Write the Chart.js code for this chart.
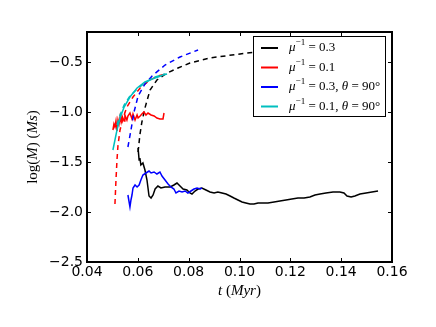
<!DOCTYPE html>
<html>
<head>
<meta charset="utf-8">
<script src="https://cdn.jsdelivr.net/npm/chart.js@4.4.0/dist/chart.umd.min.js"></script>
<style>
  html, body { margin: 0; padding: 0; background: #fff; }
  canvas { display: block; }
</style>
</head>
<body>
<canvas id="chart" width="436" height="327"></canvas>
<script>
// --- data ---
const xTicks = [0.04, 0.06, 0.08, 0.10, 0.12, 0.14, 0.16];
const yTicks = [-2.5, -2.0, -1.5, -1.0, -0.5];

// mu^-1 = 0.3
const blackSolidT = [0.0601, 0.0605, 0.0608, 0.0612, 0.0620, 0.0628, 0.0636, 0.0644, 0.0652, 0.0660, 0.0668, 0.0679, 0.0691, 0.0707, 0.0727, 0.0742, 0.0754, 0.0766, 0.0778, 0.0793, 0.0805, 0.0813, 0.0825, 0.0837, 0.0852, 0.0868, 0.0884, 0.0900, 0.0915, 0.0931, 0.0947, 0.0963, 0.0978, 0.0994, 0.1010, 0.1025, 0.1041, 0.1057, 0.1073, 0.1092, 0.1112, 0.1136, 0.1159, 0.1183, 0.1206, 0.1230, 0.1254, 0.1277, 0.1297, 0.1317, 0.1340, 0.1368, 0.1395, 0.1411, 0.1423, 0.1439, 0.1454, 0.1474, 0.1498, 0.1521, 0.1545];
const blackSolidY = [-1.36, -1.48, -1.46, -1.53, -1.51, -1.58, -1.68, -1.84, -1.86, -1.83, -1.77, -1.74, -1.76, -1.75, -1.75, -1.73, -1.71, -1.74, -1.77, -1.78, -1.81, -1.82, -1.79, -1.77, -1.76, -1.78, -1.80, -1.81, -1.80, -1.81, -1.82, -1.84, -1.86, -1.88, -1.90, -1.91, -1.92, -1.92, -1.91, -1.91, -1.91, -1.90, -1.89, -1.88, -1.87, -1.86, -1.86, -1.85, -1.83, -1.82, -1.81, -1.80, -1.80, -1.81, -1.84, -1.85, -1.84, -1.82, -1.81, -1.80, -1.79];
const blackDashT = [0.0601, 0.0608, 0.0616, 0.0628, 0.0648, 0.0675, 0.0715, 0.0758, 0.0805, 0.0884, 0.1029, 0.1238, 0.1553];
const blackDashY = [-1.40, -1.23, -1.10, -0.96, -0.78, -0.68, -0.61, -0.56, -0.51, -0.46, -0.41, -0.36, -0.33];

// mu^-1 = 0.1
const redSolidT = [0.0502, 0.0506, 0.0510, 0.0514, 0.0518, 0.0522, 0.0526, 0.0530, 0.0534, 0.0538, 0.0546, 0.0549, 0.0557, 0.0561, 0.0569, 0.0577, 0.0581, 0.0589, 0.0597, 0.0601, 0.0609, 0.0616, 0.0624, 0.0632, 0.0640, 0.0652, 0.0664, 0.0675, 0.0687, 0.0699, 0.0703];
const redSolidY = [-1.18, -1.12, -1.15, -1.09, -1.19, -1.08, -1.12, -1.05, -1.10, -1.04, -1.09, -1.03, -1.08, -1.04, -1.01, -1.07, -1.02, -1.08, -1.03, -1.06, -1.04, -1.02, -1.00, -1.03, -1.01, -1.03, -1.04, -1.06, -1.07, -1.07, -1.01];
const redDashT = [0.0510, 0.0514, 0.0518, 0.0522, 0.0530, 0.0542, 0.0557, 0.0581, 0.0609, 0.0648, 0.0679, 0.0707];
const redDashY = [-1.92, -1.68, -1.48, -1.33, -1.18, -1.06, -0.95, -0.85, -0.76, -0.68, -0.64, -0.62];

// mu^-1 = 0.3, theta = 90
const blueSolidT = [0.0561, 0.0565, 0.0569, 0.0573, 0.0577, 0.0581, 0.0589, 0.0597, 0.0605, 0.0612, 0.0620, 0.0632, 0.0644, 0.0652, 0.0664, 0.0675, 0.0687, 0.0695, 0.0707, 0.0719, 0.0730, 0.0742, 0.0750, 0.0762, 0.0774, 0.0786, 0.0797, 0.0809, 0.0821, 0.0833, 0.0845, 0.0852];
const blueSolidY = [-1.83, -1.89, -1.95, -1.88, -1.83, -1.76, -1.73, -1.75, -1.73, -1.68, -1.63, -1.61, -1.59, -1.61, -1.60, -1.62, -1.60, -1.64, -1.68, -1.72, -1.75, -1.77, -1.81, -1.79, -1.80, -1.79, -1.81, -1.79, -1.77, -1.76, -1.77, -1.76];
const blueDashT = [0.0561, 0.0573, 0.0585, 0.0601, 0.0628, 0.0656, 0.0707, 0.0766, 0.0837];
const blueDashY = [-1.35, -1.18, -1.00, -0.84, -0.72, -0.64, -0.53, -0.45, -0.38];

// mu^-1 = 0.1, theta = 90
const cyanSolidT = [0.0502, 0.0510, 0.0518, 0.0530, 0.0546, 0.0569, 0.0597, 0.0628, 0.0656, 0.0679, 0.0699, 0.0715];
const cyanSolidY = [-1.38, -1.28, -1.18, -1.06, -0.95, -0.85, -0.76, -0.70, -0.67, -0.65, -0.63, -0.62];
const cyanDashT = [0.0518, 0.0530, 0.0546, 0.0569, 0.0601, 0.0628, 0.0668, 0.0707];
const cyanDashY = [-1.13, -1.03, -0.93, -0.84, -0.76, -0.71, -0.65, -0.62];

const seriesColors = ['#000000', '#ff0000', '#0000ff', '#00bfbf'];
const legendLabels = [
  [['μ', 'i'], ['−1', 'sup'], [' = 0.3', 'n']],
  [['μ', 'i'], ['−1', 'sup'], [' = 0.1', 'n']],
  [['μ', 'i'], ['−1', 'sup'], [' = 0.3, ', 'n'], ['θ', 'i'], [' = 90°', 'n']],
  [['μ', 'i'], ['−1', 'sup'], [' = 0.1, ', 'n'], ['θ', 'i'], [' = 90°', 'n']]
];

const pts = (ts, ys) => ts.map((t, i) => ({ x: t, y: ys[i] }));

const line = (ts, ys, color, dashed) => ({
  data: pts(ts, ys),
  borderColor: color,
  borderWidth: 1.5,
  borderDash: dashed ? [5, 4] : [],
  pointRadius: 0,
  tension: 0,
  fill: false
});

// listed bottom to top, reversed because Chart.js paints dataset 0 last
const datasets = [
  line(blackSolidT, blackSolidY, seriesColors[0], false),
  line(blackDashT, blackDashY, seriesColors[0], true),
  line(redSolidT, redSolidY, seriesColors[1], false),
  line(redDashT, redDashY, seriesColors[1], true),
  line(blueSolidT, blueSolidY, seriesColors[2], false),
  line(blueDashT, blueDashY, seriesColors[2], true),
  line(cyanSolidT, cyanSolidY, seriesColors[3], false),
  line(cyanDashT, cyanDashY, seriesColors[3], true)
].reverse();

const SERIF = '"Liberation Serif", "DejaVu Serif", serif';

function setFont(ctx, kind, size) {
  if (kind === 'sup') ctx.font = (size * 0.7) + 'px ' + SERIF;
  else if (kind === 'i') ctx.font = 'italic ' + size + 'px ' + SERIF;
  else ctx.font = size + 'px ' + SERIF;
}

// draw a run of math-ish text pieces, left to right
function drawRich(ctx, parts, x, y, size) {
  ctx.textBaseline = 'middle';
  ctx.textAlign = 'left';
  ctx.fillStyle = '#000';
  parts.forEach(([txt, kind]) => {
    setFont(ctx, kind, size);
    ctx.fillText(txt, x, kind === 'sup' ? y - size * 0.38 : y);
    x += ctx.measureText(txt).width;
  });
  return x;
}

function richWidth(ctx, parts, size) {
  let w = 0;
  parts.forEach(([txt, kind]) => {
    setFont(ctx, kind, size);
    w += ctx.measureText(txt).width;
  });
  return w;
}

const framePlugin = {
  id: 'frame',
  afterDatasetsDraw(chart) {
    const { ctx, chartArea: ca, scales } = chart;
    ctx.save();
    ctx.strokeStyle = '#000';
    ctx.lineWidth = 1;
    xTicks.forEach(v => {
      const px = Math.round(scales.x.getPixelForValue(v)) + 0.5;
      ctx.beginPath();
      ctx.moveTo(px, ca.bottom); ctx.lineTo(px, ca.bottom - 4);
      ctx.moveTo(px, ca.top); ctx.lineTo(px, ca.top + 4);
      ctx.stroke();
    });
    yTicks.forEach(v => {
      const py = Math.round(scales.y.getPixelForValue(v)) + 0.5;
      ctx.beginPath();
      ctx.moveTo(ca.left, py); ctx.lineTo(ca.left + 4, py);
      ctx.moveTo(ca.right, py); ctx.lineTo(ca.right - 4, py);
      ctx.stroke();
    });
    ctx.lineWidth = 2;
    ctx.strokeRect(ca.left, ca.top, ca.right - ca.left, ca.bottom - ca.top);
    ctx.restore();
  },
  afterDraw(chart) {
    const { ctx, chartArea: ca } = chart;
    ctx.save();

    // legend box in the upper right of the axes
    const boxW = 132, boxH = 80;
    const bx = ca.right - 7 - boxW, by = ca.top + 4;
    ctx.fillStyle = '#fff';
    ctx.fillRect(bx, by, boxW, boxH);
    ctx.strokeStyle = '#000';
    ctx.lineWidth = 1;
    ctx.strokeRect(bx + 0.5, by + 0.5, boxW, boxH);
    legendLabels.forEach((parts, i) => {
      const ry = by + 12 + i * 19.5;
      ctx.strokeStyle = seriesColors[i];
      ctx.lineWidth = 2;
      ctx.beginPath();
      ctx.moveTo(bx + 8, ry); ctx.lineTo(bx + 25, ry);
      ctx.stroke();
      drawRich(ctx, parts, bx + 36, ry, 13);
    });

    // x axis title
    const xt = [['t', 'i'], [' (', 'n'], ['Myr', 'i'], [')', 'n']];
    const xw = richWidth(ctx, xt, 15);
    drawRich(ctx, xt, (ca.left + ca.right) / 2 - xw / 2, 291, 15);

    // y axis title, rotated
    const yt = [['log(', 'n'], ['M', 'i'], [') (', 'n'], ['Ms', 'i'], [')', 'n']];
    const yw = richWidth(ctx, yt, 15);
    ctx.translate(33, (ca.top + ca.bottom) / 2);
    ctx.rotate(-Math.PI / 2);
    drawRich(ctx, yt, -yw / 2, 0, 15);
    ctx.restore();
  }
};

new Chart(document.getElementById('chart').getContext('2d'), {
  type: 'line',
  data: { datasets },
  options: {
    responsive: false,
    devicePixelRatio: 1,
    animation: false,
    layout: { padding: { left: 0, top: 32, right: 44, bottom: 0 } },
    plugins: { legend: { display: false }, tooltip: { enabled: false } },
    scales: {
      x: {
        type: 'linear',
        min: 0.04,
        max: 0.16,
        grid: { display: false, drawTicks: false },
        border: { display: false },
        ticks: {
          stepSize: 0.02,
          autoSkip: false,
          maxRotation: 0,
          padding: 2,
          color: '#000',
          font: { family: '"DejaVu Sans"', size: 14 },
          callback: v => v.toFixed(2)
        },
        afterFit: s => { s.height = 65; }
      },
      y: {
        type: 'linear',
        min: -2.5,
        max: -0.2,
        grid: { display: false, drawTicks: false },
        border: { display: false },
        ticks: {
          stepSize: 0.5,
          includeBounds: false,
          padding: 4,
          color: '#000',
          font: { family: '"DejaVu Sans"', size: 14 },
          callback: v => v.toFixed(1).replace('-', '\u2212')
        },
        afterFit: s => { s.width = 87; }
      }
    }
  },
  plugins: [framePlugin]
});
</script>
</body>
</html>
